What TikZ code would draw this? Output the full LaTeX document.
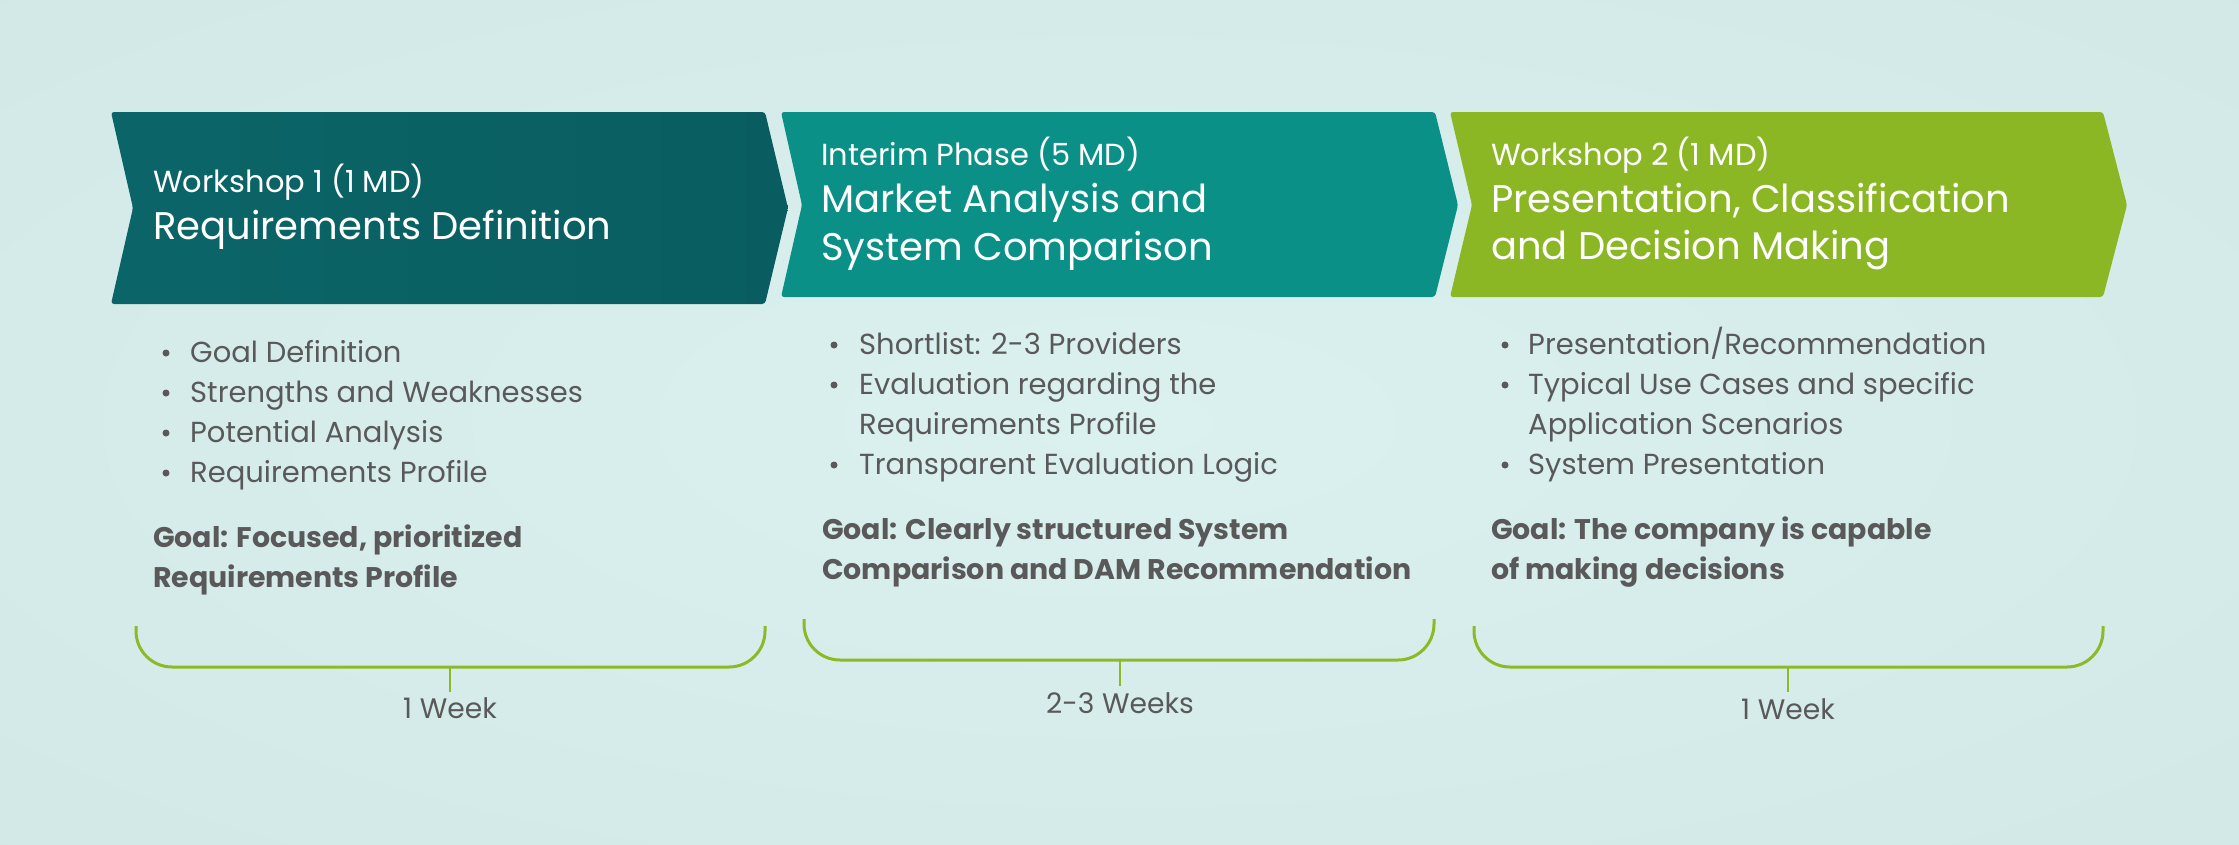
\documentclass[tikz,border=0pt]{standalone}
\usepackage{fontspec}
\setmainfont{Poppins}
\definecolor{bgin}{HTML}{DBF1EF}
\definecolor{bgout}{HTML}{CFE5E4}
\definecolor{arrA}{HTML}{0B6568}
\definecolor{arrAr}{HTML}{095D60}
\definecolor{arrB}{HTML}{0A9087}
\definecolor{arrC}{HTML}{8AB723}
\definecolor{txtgray}{HTML}{595959}
\definecolor{bracegreen}{HTML}{8BB928}
\begin{document}
\begin{tikzpicture}[x=1pt,y=-1pt,
  sub/.style={anchor=base west, inner sep=0pt, text=white, font=\fontsize{30.5}{36}\selectfont},
  ttl/.style={anchor=base west, inner sep=0pt, text=white, font=\fontsize{38.5}{44}\selectfont},
  itm/.style={anchor=base west, inner sep=0pt, text=txtgray, font=\fontsize{29}{34}\selectfont},
  goal/.style={anchor=base west, inner sep=0pt, text=txtgray, font=\fontsize{28.4}{34}\selectfont\bfseries},
  wk/.style={anchor=base, inner sep=0pt, text=txtgray, font=\fontsize{28.2}{32}\selectfont},
  brace/.style={draw=bracegreen, line width=3pt, rounded corners=36pt},
  tick/.style={draw=bracegreen, line width=2.3pt},
  dot/.style={circle, fill=txtgray, inner sep=0pt, minimum size=7pt},
  chev/.style={rounded corners=3pt}]
\useasboundingbox (0,0) rectangle (2239,844);
\shade[inner color=bgin, outer color=bgout] (-1100,-420) rectangle (3339,1264);
% chevrons
\shade[chev, left color=arrA, right color=arrAr] (111,112) -- (765,112) -- (788,208) -- (765,304) -- (111,304) -- (133,208) -- cycle;
\fill[chev, arrB] (781,112) -- (1435,112) -- (1458,205) -- (1435,297) -- (781,297) -- (802,205) -- cycle;
\fill[chev, arrC] (1450,112) -- (2103,112) -- (2127,205) -- (2103,297) -- (1450,297) -- (1472,205) -- cycle;
% titles
\node[sub] (s1) at (153,192) {Workshop 1 (1 MD)};
\node[ttl] (t1) at (153,239) {Requirements Definition};
\node[sub] (s2) at (821,165) {Interim Phase (5 MD)};
\node[ttl] (t2a) at (821,212) {Market Analysis and};
\node[ttl] (t2b) at (821,260) {System Comparison};
\node[sub] (s3) at (1491,165) {Workshop 2 (1 MD)};
\node[ttl] (t3a) at (1491,212) {Presentation, Classification};
\node[ttl] (t3b) at (1491,259) {and Decision Making};
% column 1
\node[dot] (d1a) at (166,353) {};
\node[itm] (i1a) at (190,362) {Goal Definition};
\node[dot] (d1b) at (166,393) {};
\node[itm] (i1b) at (190,402) {Strengths and Weaknesses};
\node[dot] (d1c) at (166,433) {};
\node[itm] (i1c) at (190,442) {Potential Analysis};
\node[dot] (d1d) at (166,473) {};
\node[itm] (i1d) at (190,482) {Requirements Profile};
\node[goal] (g1a) at (153,547) {Goal: Focused, prioritized};
\node[goal] (g1b) at (153,587) {Requirements Profile};
% column 2
\node[dot] (d2a) at (834,345) {};
\node[itm] (i2a) at (859,354) {Shortlist: 2-3 Providers};
\node[dot] (d2b) at (834,385) {};
\node[itm] (i2b) at (859,394) {Evaluation regarding the};
\node[itm] (i2c) at (859,434) {Requirements Profile};
\node[dot] (d2d) at (834,465) {};
\node[itm] (i2d) at (859,474) {Transparent Evaluation Logic};
\node[goal] (g2a) at (822,539) {Goal: Clearly structured System};
\node[goal] (g2b) at (822,579) {Comparison and DAM Recommendation};
% column 3
\node[dot] (d3a) at (1505,345) {};
\node[itm] (i3a) at (1528,354) {Presentation/Recommendation};
\node[dot] (d3b) at (1505,385) {};
\node[itm] (i3b) at (1528,394) {Typical Use Cases and specific};
\node[itm] (i3c) at (1528,434) {Application Scenarios};
\node[dot] (d3d) at (1505,465) {};
\node[itm] (i3d) at (1528,474) {System Presentation};
\node[goal] (g3a) at (1491,539) {Goal: The company is capable};
\node[goal] (g3b) at (1491,579) {of making decisions};
% braces
\draw[brace] (136,626) -- (136,667) -- (765,667) -- (765,626);
\coordinate (b1) at (450,667);
\coordinate (b1e) at (450,692);
\draw[tick] (b1) -- (b1e);
\node[wk] (w1) at (450,718) {1 Week};
\draw[brace] (804,619) -- (804,660) -- (1434,660) -- (1434,619);
\coordinate (b2) at (1120,660);
\coordinate (b2e) at (1120,686);
\draw[tick] (b2) -- (b2e);
\node[wk] (w2) at (1120,713) {2-3 Weeks};
\draw[brace] (1474,626) -- (1474,667) -- (2103,667) -- (2103,626);
\coordinate (b3) at (1788,667);
\coordinate (b3e) at (1788,692);
\draw[tick] (b3) -- (b3e);
\node[wk] (w3) at (1788,719) {1 Week};
\end{tikzpicture}
\end{document}
